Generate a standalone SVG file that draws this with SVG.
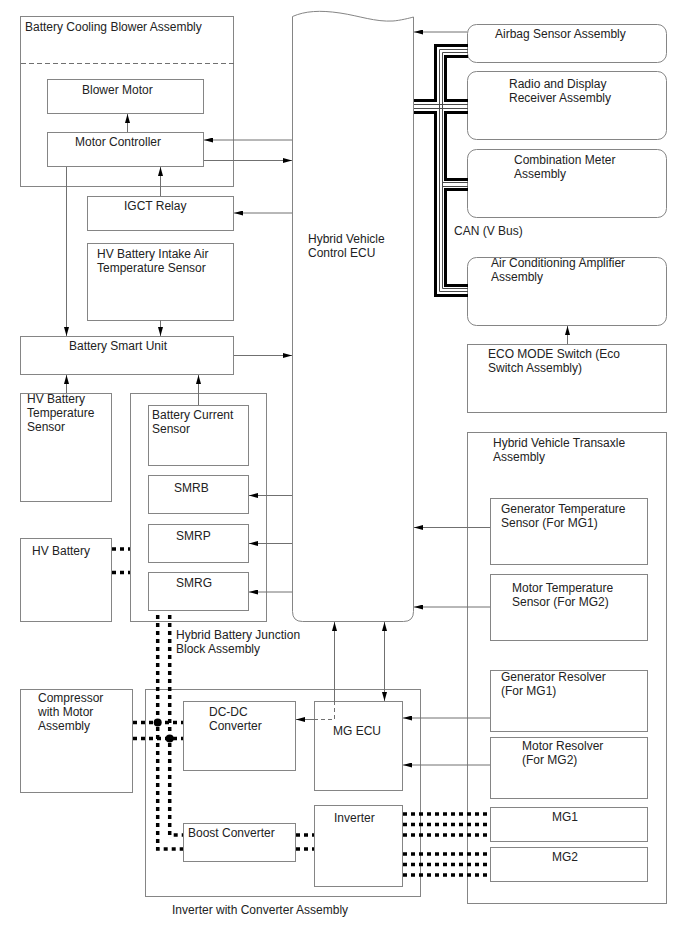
<svg xmlns="http://www.w3.org/2000/svg" width="688" height="949" viewBox="0 0 688 949">
  <style>
    text { font-family: "Liberation Sans", Arial, sans-serif; font-size: 12px; fill: #222; }
    .box { fill: #fff; stroke: #858585; stroke-width: 1; }
    .wire { fill: none; stroke: #707070; stroke-width: 1; }
    .can { fill: none; stroke: #000; stroke-width: 3; }
    .canthin { fill: none; stroke: #4a4a4a; stroke-width: 1; }
    .hv { fill: none; stroke: #000; stroke-width: 3.5; stroke-dasharray: 4 4; }
  </style>
  <defs>
    <marker id="tip" viewBox="0 0 9 5" refX="9" refY="2.500" markerWidth="9" markerHeight="5" markerUnits="userSpaceOnUse" orient="auto">
      <path d="M0 0L9 2.500L0 5z" fill="#000"/>
    </marker>
    <marker id="tail" viewBox="0 0 9 5" refX="0" refY="2.500" markerWidth="9" markerHeight="5" markerUnits="userSpaceOnUse" orient="auto">
      <path d="M9 0L0 2.500L9 5z" fill="#000"/>
    </marker>
  </defs>
  <rect width="688" height="949" fill="#fff"/>

  <g id="blower-assembly">
    <rect class="box" x="20.500" y="16.500" width="213" height="170"/>
    <path d="M21 63.500H234" fill="none" stroke="#707070" stroke-dasharray="5 3"/>
    <text x="25" y="31">Battery Cooling Blower Assembly</text>
  </g>
  <g id="blower-motor"><rect class="box" x="47.500" y="79.500" width="156" height="34"/><text x="82" y="94">Blower Motor</text></g>
  <g id="motor-controller"><rect class="box" x="47.500" y="132.500" width="156" height="34"/><text x="75" y="146">Motor Controller</text></g>
  <g id="igct-relay"><rect class="box" x="87.500" y="196.500" width="146" height="34"/><text x="124" y="210">IGCT Relay</text></g>
  <g id="intake-sensor"><rect class="box" x="87.500" y="243.500" width="146" height="77"/><text x="97" y="258">HV Battery Intake Air</text><text x="97" y="272">Temperature Sensor</text></g>
  <g id="battery-smart-unit"><rect class="box" x="20.500" y="336.500" width="213" height="38"/><text x="69" y="350">Battery Smart Unit</text></g>
  <g id="battery-temp-sensor"><rect class="box" x="20.500" y="393.500" width="91" height="108"/><text x="27" y="403">HV Battery</text><text x="27" y="417">Temperature</text><text x="27" y="431">Sensor</text></g>
  <g id="hv-battery"><rect class="box" x="20.500" y="538.500" width="91" height="83"/><text x="32" y="555">HV Battery</text></g>
  <g id="junction-block">
    <rect class="box" x="130.500" y="393.500" width="136" height="228"/>
    <text x="176" y="639">Hybrid Battery Junction</text><text x="176" y="653">Block Assembly</text>
  </g>
  <g id="current-sensor"><rect class="box" x="148.500" y="405.500" width="100" height="60"/><text x="152" y="419">Battery Current</text><text x="152" y="433">Sensor</text></g>
  <g id="smrb"><rect class="box" x="148.500" y="475.500" width="100" height="38"/><text x="174" y="492">SMRB</text></g>
  <g id="smrp"><rect class="box" x="148.500" y="524.500" width="100" height="38"/><text x="176" y="540">SMRP</text></g>
  <g id="smrg"><rect class="box" x="148.500" y="572.500" width="100" height="38"/><text x="176" y="587">SMRG</text></g>

  <g id="hybrid-ecu">
    <path class="box" d="M292.500 16.500C305 11 320 10 340 13C360 16 375 22 393 21C400 20.500 410 18 413.500 17V611.500Q413.500 621.500 403.500 621.500H302.500Q292.500 621.500 292.500 611.500Z"/>
    <text x="308" y="243">Hybrid Vehicle</text><text x="308" y="257">Control ECU</text>
  </g>

  <g id="airbag"><rect class="box" x="467.500" y="24.500" width="199" height="38" rx="9"/><text x="495" y="38">Airbag Sensor Assembly</text></g>
  <g id="radio"><rect class="box" x="467.500" y="71.500" width="199" height="68" rx="9"/><text x="509" y="88">Radio and Display</text><text x="509" y="102">Receiver Assembly</text></g>
  <g id="meter"><rect class="box" x="467.500" y="149.500" width="199" height="68" rx="9"/><text x="514" y="164">Combination Meter</text><text x="514" y="178">Assembly</text></g>
  <g id="ac-amp"><rect class="box" x="467.500" y="257.500" width="199" height="68" rx="9"/><text x="491" y="267">Air Conditioning Amplifier</text><text x="491" y="281">Assembly</text></g>
  <g id="eco-switch"><rect class="box" x="467.500" y="344.500" width="199" height="68"/><text x="488" y="358">ECO MODE Switch (Eco</text><text x="488" y="372">Switch Assembly)</text></g>
  <g id="transaxle">
    <rect class="box" x="467.500" y="432.500" width="199" height="471"/>
    <text x="493" y="447">Hybrid Vehicle Transaxle</text><text x="493" y="461">Assembly</text>
  </g>
  <g id="gen-temp"><rect class="box" x="490.500" y="498.500" width="157" height="66"/><text x="501" y="513">Generator Temperature</text><text x="501" y="527">Sensor (For MG1)</text></g>
  <g id="motor-temp"><rect class="box" x="490.500" y="574.500" width="157" height="66"/><text x="512" y="592">Motor Temperature</text><text x="512" y="606">Sensor (For MG2)</text></g>
  <g id="gen-resolver"><rect class="box" x="490.500" y="670.500" width="157" height="61"/><text x="501" y="681">Generator Resolver</text><text x="501" y="695">(For MG1)</text></g>
  <g id="motor-resolver"><rect class="box" x="490.500" y="737.500" width="157" height="61"/><text x="522" y="750">Motor Resolver</text><text x="522" y="764">(For MG2)</text></g>
  <g id="mg1"><rect class="box" x="490.500" y="807.500" width="157" height="34"/><text x="552" y="821">MG1</text></g>
  <g id="mg2"><rect class="box" x="490.500" y="847.500" width="157" height="34"/><text x="552" y="861">MG2</text></g>

  <g id="compressor"><rect class="box" x="20.500" y="689.500" width="112" height="103"/><text x="38" y="702">Compressor</text><text x="38" y="716">with Motor</text><text x="38" y="730">Assembly</text></g>
  <g id="converter-assembly">
    <rect class="box" x="145.500" y="689.500" width="275" height="207"/>
    <text x="172" y="914">Inverter with Converter Assembly</text>
  </g>
  <g id="dcdc"><rect class="box" x="183.500" y="701.500" width="112" height="69"/><text x="209" y="716">DC-DC</text><text x="209" y="730">Converter</text></g>
  <g id="mg-ecu"><rect class="box" x="314.500" y="701.500" width="88" height="89"/><text x="333" y="735">MG ECU</text></g>
  <g id="boost"><rect class="box" x="183.500" y="823.500" width="112" height="38"/><text x="188" y="837">Boost Converter</text></g>
  <g id="inverter"><rect class="box" x="314.500" y="805.500" width="88" height="81"/><text x="334" y="822">Inverter</text></g>

  <text id="can-label" x="454" y="235">CAN (V Bus)</text>

  <g id="connectors">
    <path class="wire" marker-end="url(#tip)" d="M127.500 132V114"/>
    <path class="wire" marker-end="url(#tip)" d="M292 140H204"/>
    <path class="wire" marker-end="url(#tip)" d="M204 160.500H292"/>
    <path class="wire" marker-end="url(#tip)" d="M160.500 196V167"/>
    <path class="wire" marker-end="url(#tip)" d="M292 213H234"/>
    <path class="wire" marker-end="url(#tip)" d="M66.500 167V336"/>
    <path class="wire" marker-end="url(#tip)" d="M160.500 320V336"/>
    <path class="wire" marker-end="url(#tip)" d="M234 355.500H292"/>
    <path class="wire" marker-end="url(#tip)" d="M66.500 393V375"/>
    <path class="wire" marker-end="url(#tip)" d="M198.500 405V375"/>
    <path class="wire" marker-end="url(#tip)" d="M292 495.500H249"/>
    <path class="wire" marker-end="url(#tip)" d="M292 543.500H249"/>
    <path class="wire" marker-end="url(#tip)" d="M292 592H249"/>
    <path class="wire" marker-end="url(#tip)" d="M467 32H414"/>
    <path class="wire" marker-end="url(#tip)" d="M567.500 344V326"/>
    <path class="wire" marker-end="url(#tip)" d="M490 527.500H414"/>
    <path class="wire" marker-end="url(#tip)" d="M490 607H414"/>
    <path class="wire" marker-end="url(#tip)" d="M490 718H403"/>
    <path class="wire" marker-end="url(#tip)" d="M490 765H403"/>
    <path class="wire" marker-end="url(#tip)" d="M334.500 701V622"/>
    <path class="wire" marker-start="url(#tail)" marker-end="url(#tip)" d="M384.500 622V701"/>
    <path class="wire" marker-end="url(#tip)" d="M314 719.500H296"/>
    <path fill="none" stroke="#707070" stroke-dasharray="4 3" d="M334.500 701V719.500H314"/>

    <!-- CAN bus: outer and inner conductors with their two signal lines -->
    <path class="can" d="M468 45.500H435.500V100.500H414M414 112.500H435.500V295.500H468"/>
    <path class="can" d="M468 56.500H445.500V100.500H468M468 112.500H445.500V179.500H468M468 189.500H445.500V285.500H468"/>
    <path class="canthin" d="M468 49.500H439.500V291.500H468M468 52.500H442.500V288.500H468M414 104.500H468M414 108.500H468M442.500 182.500H468M442.500 186.500H468"/>

    <!-- High-voltage lines -->
    <path class="hv" d="M112 549H130M112 572.500H130"/>
    <path class="hv" d="M157.700 615V849H183"/>
    <path class="hv" d="M169.700 615V835H183"/>
    <path class="hv" d="M133 722.500H183M133 738.500H183"/>
    <path class="hv" d="M296 835H314M296 849H314"/>
    <path class="hv" d="M403 814H490M403 824.500H490M403 835H490M403 854H490M403 864.500H490M403 875H490"/>
    <circle cx="157.700" cy="722.500" r="4"/>
    <circle cx="169.700" cy="738.500" r="4"/>
  </g>
</svg>
